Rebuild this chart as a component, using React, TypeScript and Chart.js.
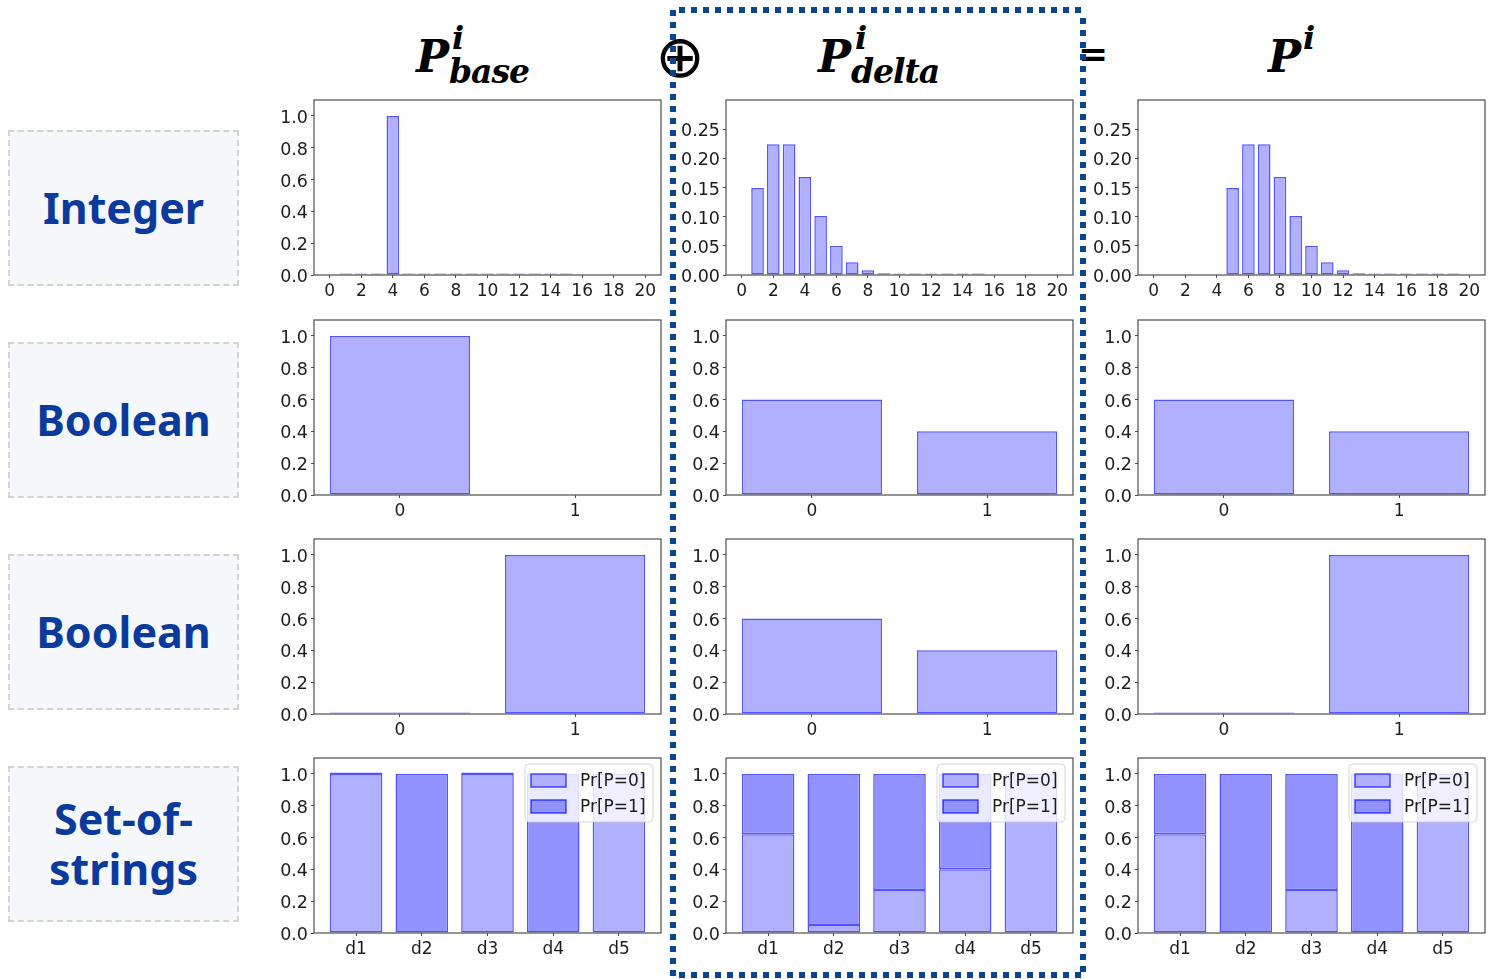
import React, { useEffect, useRef } from "react";
import { Chart, registerables } from "chart.js";

Chart.register(...registerables);
Chart.defaults.font.family = "'DejaVu Sans', sans-serif";

// ---------------- data ----------------
const ROW_LABELS = ["Integer", "Boolean", "Boolean", "Set-of-\nstrings"];

const INT_TICKS = [0, 2, 4, 6, 8, 10, 12, 14, 16, 18, 20];
const INT_BASE_X = [1, 2, 3, 4, 5, 6, 7, 8, 9, 10, 11, 12, 13, 14, 15];
const INT_BASE_Y = [0.001, 0.001, 0.001, 1.0, 0.001, 0.001, 0.001, 0.001, 0.001, 0.001, 0.001, 0.001, 0.001, 0.001, 0.001];
const INT_DELTA_X = [1, 2, 3, 4, 5, 6, 7, 8, 9, 10, 11, 12, 13, 14, 15];
const INT_DELTA_Y = [0.149, 0.224, 0.224, 0.168, 0.101, 0.05, 0.022, 0.008, 0.003, 0.0008, 0.0002, 0.0001, 0.0001, 0.0001, 0.0001];
const INT_RES_X = [5, 6, 7, 8, 9, 10, 11, 12, 13, 14, 15, 16, 17, 18, 19];
const INT_RES_Y = [0.149, 0.224, 0.224, 0.168, 0.101, 0.05, 0.022, 0.008, 0.003, 0.0008, 0.0002, 0.0001, 0.0001, 0.0001, 0.0001];

const PROB_TICKS = [0, 0.2, 0.4, 0.6, 0.8, 1.0];
const SMALL_TICKS = [0, 0.05, 0.1, 0.15, 0.2, 0.25];

const BOOL_X = [0, 1];
const BOOL_LABELS = ["0", "1"];
const BOOL1_BASE = [1.0, null];
const BOOL1_DELTA = [0.6, 0.4];
const BOOL1_RES = [0.6, 0.4];
const BOOL2_BASE = [0.001, 1.0];
const BOOL2_DELTA = [0.6, 0.4];
const BOOL2_RES = [0.001, 1.0];

const SET_X = [0, 1, 2, 3, 4];
const SET_LABELS = ["d1", "d2", "d3", "d4", "d5"];
const SERIES_NAMES = ["Pr[P=0]", "Pr[P=1]"];
const SET_BASE_P0 = [1.0, null, 1.0, null, 1.0];
const SET_BASE_P1 = [0.003, 1.0, 0.003, 1.0, null];
const SET_DELTA_P0 = [0.62, 0.05, 0.27, 0.4, 1.0];
const SET_DELTA_P1 = [0.38, 0.95, 0.73, 0.6, null];
const SET_RES_P0 = [0.62, null, 0.27, null, 1.0];
const SET_RES_P1 = [0.38, 1.0, 0.73, 1.0, null];

// ---------------- styles ----------------
const LIGHT = "rgb(176,176,255)";
const DARK = "rgb(145,145,255)";
const EDGE = "rgba(0,0,255,0.68)";
const TEXT = "#1c1c1c";
const COL_LEFT = [314, 726, 1138];
const ROW_TOP = [100, 320, 539, 758];
const PW = 347;
const PH = 175;
const Y_AXIS_W = 64;
const PAD_TOP = 14;
const PAD_RIGHT = 22;
const X_AXIS_H = 30;

type Series = { label: string; values: (number | null)[]; color: string };
type Spec = {
  col: number;
  row: number;
  xs: number[];
  series: Series[];
  xMin: number;
  xMax: number;
  xTicks: number[];
  xLabels?: string[];
  yMax: number;
  yTicks: number[];
  yDigits: number;
  stacked?: boolean;
  legend?: boolean;
};

const framePlugin = {
  id: "frame",
  afterDatasetsDraw(chart: any, _args: any, opts: any) {
    const { ctx, chartArea: a } = chart;
    ctx.save();
    ctx.strokeStyle = "#4d4d4d";
    ctx.lineWidth = 1.2;
    ctx.strokeRect(a.left, a.top, a.right - a.left, a.bottom - a.top);
    if (opts && opts.legend) {
      const w = 128;
      const h = 58;
      const x = a.right - 8 - w;
      const y = a.top + 6;
      ctx.beginPath();
      const r = 4;
      ctx.moveTo(x + r, y);
      ctx.lineTo(x + w - r, y);
      ctx.quadraticCurveTo(x + w, y, x + w, y + r);
      ctx.lineTo(x + w, y + h - r);
      ctx.quadraticCurveTo(x + w, y + h, x + w - r, y + h);
      ctx.lineTo(x + r, y + h);
      ctx.quadraticCurveTo(x, y + h, x, y + h - r);
      ctx.lineTo(x, y + r);
      ctx.quadraticCurveTo(x, y, x + r, y);
      ctx.closePath();
      ctx.fillStyle = "rgba(255,255,255,0.8)";
      ctx.fill();
      ctx.strokeStyle = "rgba(204,204,204,0.8)";
      ctx.lineWidth = 1;
      ctx.stroke();
      chart.data.datasets.forEach((ds: any, i: number) => {
        const py = y + 10 + i * 26;
        ctx.fillStyle = ds.backgroundColor;
        ctx.fillRect(x + 6, py, 35, 13);
        ctx.strokeStyle = ds.borderColor;
        ctx.lineWidth = 1.5;
        ctx.strokeRect(x + 6, py, 35, 13);
        ctx.fillStyle = TEXT;
        ctx.font = "17px 'DejaVu Sans'";
        ctx.textBaseline = "middle";
        ctx.textAlign = "left";
        ctx.fillText(ds.label, x + 55, py + 8);
      });
    }
    ctx.restore();
  },
};

function ChartBox({ spec }: { spec: Spec }) {
  const ref = useRef<HTMLCanvasElement>(null);
  const width = Y_AXIS_W + PW + PAD_RIGHT;
  const height = PAD_TOP + PH + X_AXIS_H;
  useEffect(() => {
    if (!ref.current) return;
    const datasets = spec.series.map((s) => ({
      label: s.label,
      data: spec.xs.map((x, i) => ({ x, y: s.values[i] })),
      backgroundColor: s.color,
      borderColor: EDGE,
      borderWidth: 1.5,
      borderSkipped: false as const,
      minBarLength: 1.5,
      barPercentage: 0.8,
      categoryPercentage: 1.0,
    }));
    const chart = new Chart(ref.current, {
      type: "bar",
      data: { datasets },
      plugins: [framePlugin],
      options: {
        animation: false,
        responsive: false,
        maintainAspectRatio: false,
        layout: { padding: { top: PAD_TOP, right: PAD_RIGHT, left: 0, bottom: 0 } },
        plugins: {
          legend: { display: false },
          tooltip: { enabled: false },
          frame: { legend: !!spec.legend },
        } as any,
        scales: {
          x: {
            type: "linear",
            min: spec.xMin,
            max: spec.xMax,
            offset: false,
            stacked: !!spec.stacked,
            border: { display: false },
            grid: {
              display: true,
              drawOnChartArea: false,
              drawTicks: true,
              tickLength: 3,
              tickColor: "#4d4d4d",
              offset: false,
            },
            ticks: {
              autoSkip: false,
              maxRotation: 0,
              padding: 3,
              color: TEXT,
              font: { size: 17 },
              callback: (v: any) =>
                spec.xLabels ? spec.xLabels[Math.round(Number(v))] ?? "" : String(v),
            },
            afterBuildTicks: (axis: any) => {
              axis.ticks = spec.xTicks.map((v) => ({ value: v }));
            },
            afterFit: (axis: any) => {
              axis.height = X_AXIS_H;
            },
          },
          y: {
            type: "linear",
            min: 0,
            max: spec.yMax,
            stacked: !!spec.stacked,
            border: { display: false },
            grid: {
              display: true,
              drawOnChartArea: false,
              drawTicks: true,
              tickLength: 3,
              tickColor: "#4d4d4d",
            },
            ticks: {
              padding: 3,
              labelOffset: 2.5,
              color: TEXT,
              font: { size: 17.5 },
              callback: (v: any) => Number(v).toFixed(spec.yDigits),
            },
            afterBuildTicks: (axis: any) => {
              axis.ticks = spec.yTicks.map((v) => ({ value: v }));
            },
            afterFit: (axis: any) => {
              axis.width = Y_AXIS_W;
            },
          },
        },
      },
    } as any);
    return () => chart.destroy();
  }, [spec]);
  return (
    <canvas
      ref={ref}
      width={width}
      height={height}
      style={{
        position: "absolute",
        left: COL_LEFT[spec.col] - Y_AXIS_W,
        top: ROW_TOP[spec.row] - PAD_TOP,
        width,
        height,
        zIndex: 2,
      }}
    />
  );
}

const INT_COMMON = { xs: [] as number[], xMin: -1, xMax: 21, xTicks: INT_TICKS };
const BOOL_COMMON = { xs: BOOL_X, xMin: -0.49, xMax: 1.49, xTicks: BOOL_X, xLabels: BOOL_LABELS, yMax: 1.1, yTicks: PROB_TICKS, yDigits: 1 };
const SET_COMMON = { xs: SET_X, xMin: -0.64, xMax: 4.64, xTicks: SET_X, xLabels: SET_LABELS, yMax: 1.1, yTicks: PROB_TICKS, yDigits: 1, stacked: true, legend: true };

const SPECS: Spec[] = [
  { ...INT_COMMON, col: 0, row: 0, xs: INT_BASE_X, series: [{ label: "p", values: INT_BASE_Y, color: LIGHT }], yMax: 1.1, yTicks: PROB_TICKS, yDigits: 1 },
  { ...INT_COMMON, col: 1, row: 0, xs: INT_DELTA_X, series: [{ label: "p", values: INT_DELTA_Y, color: LIGHT }], yMax: 0.3, yTicks: SMALL_TICKS, yDigits: 2 },
  { ...INT_COMMON, col: 2, row: 0, xs: INT_RES_X, series: [{ label: "p", values: INT_RES_Y, color: LIGHT }], yMax: 0.3, yTicks: SMALL_TICKS, yDigits: 2 },
  { ...BOOL_COMMON, col: 0, row: 1, series: [{ label: "p", values: BOOL1_BASE, color: LIGHT }] },
  { ...BOOL_COMMON, col: 1, row: 1, series: [{ label: "p", values: BOOL1_DELTA, color: LIGHT }] },
  { ...BOOL_COMMON, col: 2, row: 1, series: [{ label: "p", values: BOOL1_RES, color: LIGHT }] },
  { ...BOOL_COMMON, col: 0, row: 2, series: [{ label: "p", values: BOOL2_BASE, color: LIGHT }] },
  { ...BOOL_COMMON, col: 1, row: 2, series: [{ label: "p", values: BOOL2_DELTA, color: LIGHT }] },
  { ...BOOL_COMMON, col: 2, row: 2, series: [{ label: "p", values: BOOL2_RES, color: LIGHT }] },
  { ...SET_COMMON, col: 0, row: 3, series: [{ label: SERIES_NAMES[0], values: SET_BASE_P0, color: LIGHT }, { label: SERIES_NAMES[1], values: SET_BASE_P1, color: DARK }] },
  { ...SET_COMMON, col: 1, row: 3, series: [{ label: SERIES_NAMES[0], values: SET_DELTA_P0, color: LIGHT }, { label: SERIES_NAMES[1], values: SET_DELTA_P1, color: DARK }] },
  { ...SET_COMMON, col: 2, row: 3, series: [{ label: SERIES_NAMES[0], values: SET_RES_P0, color: LIGHT }, { label: SERIES_NAMES[1], values: SET_RES_P1, color: DARK }] },
];

const SERIF = "'DejaVu Serif', serif";

function Header({ left, sub, iLeft, subLeft }: { left: number; sub: string; iLeft: number; subLeft: number }) {
  const base: React.CSSProperties = {
    position: "absolute",
    fontFamily: SERIF,
    fontWeight: 700,
    fontStyle: "italic",
    lineHeight: 1,
    whiteSpace: "nowrap",
    color: "#000",
  };
  return (
    <>
      <span style={{ ...base, left, top: 35, fontSize: 44 }}>P</span>
      <span style={{ ...base, left: iLeft, top: 22, fontSize: 32 }}>i</span>
      {sub ? <span style={{ ...base, left: subLeft, top: 55, fontSize: 33, letterSpacing: -1 }}>{sub}</span> : null}
    </>
  );
}

const DOT = "#0a4690";

export default function App() {
  return (
    <div
      style={{
        position: "absolute",
        left: 0,
        top: 0,
        width: 1504,
        height: 979,
        background: "#fff",
        overflow: "hidden",
      }}
    >
      {ROW_LABELS.map((t, i) => (
        <div
          key={i}
          style={{
            position: "absolute",
            left: 8,
            top: 130 + i * 212,
            width: 231,
            height: 156,
            boxSizing: "border-box",
            border: "2px dashed #d4d4d4",
            background: "#f5f7fb",
            display: "flex",
            alignItems: "center",
            justifyContent: "center",
            textAlign: "center",
            whiteSpace: "pre",
            fontFamily: "'Noto Sans', sans-serif",
            fontWeight: 700,
            fontSize: 43,
            lineHeight: "50px",
            color: "#0a3a9b",
          }}
        >
          {t}
        </div>
      ))}

      <Header left={416} iLeft={452} sub="base" subLeft={449} />
      <Header left={818} iLeft={855} sub="delta" subLeft={851} />
      <Header left={1268} iLeft={1303} sub="" subLeft={0} />

      <span
        style={{
          position: "absolute",
          left: 640,
          top: 22,
          width: 80,
          textAlign: "center",
          fontFamily: "'DejaVu Sans', sans-serif",
          fontSize: 59,
          lineHeight: "70px",
          color: "#000",
        }}
      >
        ⊕
      </span>
      <span
        style={{
          position: "absolute",
          left: 1073,
          top: 24,
          width: 40,
          textAlign: "center",
          fontFamily: "'DejaVu Sans', sans-serif",
          fontWeight: 700,
          fontSize: 36,
          lineHeight: "60px",
          color: "#000",
        }}
      >
        =
      </span>

      {SPECS.map((s, i) => (
        <ChartBox key={i} spec={s} />
      ))}

      {/* dotted frame around the delta column */}
      <div style={{ position: "absolute", zIndex: 5, left: 679, top: 7, width: 407, height: 6, background: `repeating-linear-gradient(to right, ${DOT} 0 6px, transparent 6px 12px)` }} />
      <div style={{ position: "absolute", zIndex: 5, left: 679, top: 972, width: 407, height: 6, background: `repeating-linear-gradient(to right, ${DOT} 0 6px, transparent 6px 12px)` }} />
      <div style={{ position: "absolute", zIndex: 5, left: 670, top: 10, width: 6, height: 967, background: `repeating-linear-gradient(to bottom, ${DOT} 0 6px, transparent 6px 12px)` }} />
      <div style={{ position: "absolute", zIndex: 5, left: 1080, top: 18, width: 6, height: 959, background: `repeating-linear-gradient(to bottom, ${DOT} 0 6px, transparent 6px 12px)` }} />
    </div>
  );
}
